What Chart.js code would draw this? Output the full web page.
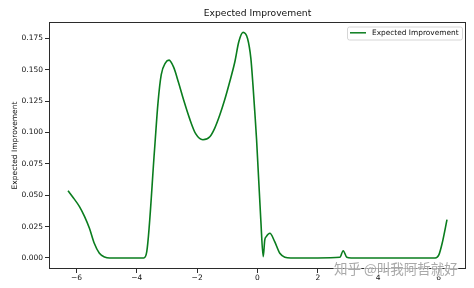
<!DOCTYPE html>
<html>
<head>
<meta charset="utf-8">
<script src="https://cdn.jsdelivr.net/npm/chart.js@4/dist/chart.umd.min.js"></script>
<style>
html,body{margin:0;padding:0;background:#fff;}
canvas{display:block;}
</style>
</head>
<body>
<canvas id="c" width="474" height="288"></canvas>
<script>
const chartTitle = "Expected Improvement";
const seriesName = "Expected Improvement";
const yAxisTitle = "Expected Improvement";
const watermark = "知乎 @叫我阿哲就好";

const xValues = [-6.28,-6.13,-5.90,-5.73,-5.57,-5.41,-5.24,-5.07,-4.90,-4.50,-4.10,-3.77,-3.67,-3.41,-3.30,-3.19,-3.05,-2.93,-2.78,-2.62,-2.45,-2.25,-2.05,-1.81,-1.58,-1.42,-1.25,-1.09,-0.92,-0.75,-0.62,-0.48,-0.33,-0.22,-0.15,-0.09,-0.03,0.11,0.19,0.24,0.29,0.41,0.57,0.74,0.91,1.10,2.00,2.73,2.84,2.96,3.10,4.50,5.89,6.01,6.12,6.28];
const eiValues = [0.0536,0.0488,0.0409,0.0329,0.0236,0.0117,0.0037,0.0008,0.0,0.0,0.0,0.0,0.0050,0.0870,0.1230,0.1460,0.1555,0.1576,0.1520,0.1400,0.1260,0.1110,0.0990,0.0942,0.0966,0.1033,0.1139,0.1258,0.1404,0.1563,0.1722,0.1797,0.1749,0.1590,0.1377,0.1165,0.0940,0.0300,0.0010,0.0143,0.0170,0.0197,0.0130,0.0037,0.0006,0.0,0.0,0.0005,0.0058,0.0005,0.0,0.0,0.0,0.0024,0.0117,0.0305];

const xTicks = [-6,-4,-2,0,2,4,6];
const xTickLabels = ["\u22126","\u22124","\u22122","0","2","4","6"];
const yTicks = [0,0.025,0.05,0.075,0.1,0.125,0.15,0.175];
const yTickLabels = ["0.000","0.025","0.050","0.075","0.100","0.125","0.150","0.175"];

const FONT = "'DejaVu Sans', sans-serif";
const LINE_COLOR = "#0a7d1e";
const AX_COLOR = "#2b2b2b";
const TXT = "#111111";

const points = xValues.map((x,i)=>({x:x,y:eiValues[i]}));

const decor = {
  id:'decor',
  afterDraw(chart){
    const ctx = chart.ctx, a = chart.chartArea;
    ctx.save();
    // frame
    ctx.strokeStyle = AX_COLOR; ctx.lineWidth = 1;
    ctx.strokeRect(Math.round(a.left)+0.5, Math.round(a.top)+0.5, Math.round(a.right-a.left)-1, Math.round(a.bottom-a.top)-1);
    // title
    ctx.fillStyle = TXT;
    ctx.font = "9.2px " + FONT;
    ctx.textAlign = "center"; ctx.textBaseline = "middle";
    ctx.fillText(chartTitle, (a.left+a.right)/2, 13.5);
    // y axis title
    ctx.save();
    ctx.translate(15, (a.top+a.bottom)/2);
    ctx.rotate(-Math.PI/2);
    ctx.font = "7.5px " + FONT;
    ctx.fillText(yAxisTitle, 0, 0);
    ctx.restore();
    // legend
    const lx = 347, ly = 26.5, lw = 115, lh = 13;
    ctx.fillStyle = "rgba(255,255,255,0.8)";
    ctx.strokeStyle = "#d6d6d6";
    ctx.beginPath();
    if (ctx.roundRect) ctx.roundRect(lx+0.5, ly+0.5, lw, lh, 2); else ctx.rect(lx+0.5, ly+0.5, lw, lh);
    ctx.fill(); ctx.stroke();
    ctx.strokeStyle = LINE_COLOR; ctx.lineWidth = 1.5;
    ctx.beginPath(); ctx.moveTo(350, 32.8); ctx.lineTo(366, 32.8); ctx.stroke();
    ctx.fillStyle = TXT;
    ctx.font = "7.4px " + FONT;
    ctx.textAlign = "left"; ctx.textBaseline = "middle";
    ctx.fillText(seriesName, 372, 33);
    // watermark
    ctx.font = "13.5px 'Noto Sans CJK SC', sans-serif";
    ctx.textAlign = "left"; ctx.textBaseline = "middle";
    ctx.lineWidth = 2; ctx.strokeStyle = "rgba(255,255,255,0.7)";
    ctx.strokeText(watermark, 334, 269);
    ctx.fillStyle = "rgba(140,140,140,0.75)";
    ctx.fillText(watermark, 334, 269);
    ctx.restore();
  }
};

new Chart(document.getElementById('c'), {
  type:'line',
  data:{datasets:[{
    label:seriesName,
    data:points,
    borderColor:LINE_COLOR,
    backgroundColor:LINE_COLOR,
    borderWidth:1.6,
    pointRadius:0,
    cubicInterpolationMode:'monotone',
    fill:false
  }]},
  options:{
    responsive:false,
    animation:false,
    devicePixelRatio:1,
    layout:{padding:{top:22,right:8,bottom:0,left:0}},
    plugins:{legend:{display:false},title:{display:false},tooltip:{enabled:false}},
    scales:{
      x:{
        type:'linear', min:-6.91, max:6.91,
        afterBuildTicks(s){ s.ticks = xTicks.map(v=>({value:v})); },
        afterFit(s){ s.height = 19; },
        grid:{display:true, drawOnChartArea:false, drawTicks:true, tickLength:4, tickColor:AX_COLOR, color:AX_COLOR},
        border:{display:false},
        ticks:{
          autoSkip:false, maxRotation:0, padding:1, color:TXT,
          font:{family:FONT, size:7.5},
          callback(v){ const i = xTicks.indexOf(v); return i>=0 ? xTickLabels[i] : ''; }
        }
      },
      y:{
        type:'linear', min:-0.0088, max:0.188,
        afterBuildTicks(s){ s.ticks = yTicks.map(v=>({value:v})); },
        afterFit(s){ s.width = 49; },
        grid:{display:true, drawOnChartArea:false, drawTicks:true, tickLength:4, tickColor:AX_COLOR, color:AX_COLOR},
        border:{display:false},
        ticks:{
          autoSkip:false, padding:2, color:TXT,
          font:{family:FONT, size:7.5},
          callback(v){ const i = yTicks.findIndex(t=>Math.abs(t-v)<1e-9); return i>=0 ? yTickLabels[i] : ''; }
        }
      }
    }
  },
  plugins:[decor]
});
</script>
</body>
</html>
